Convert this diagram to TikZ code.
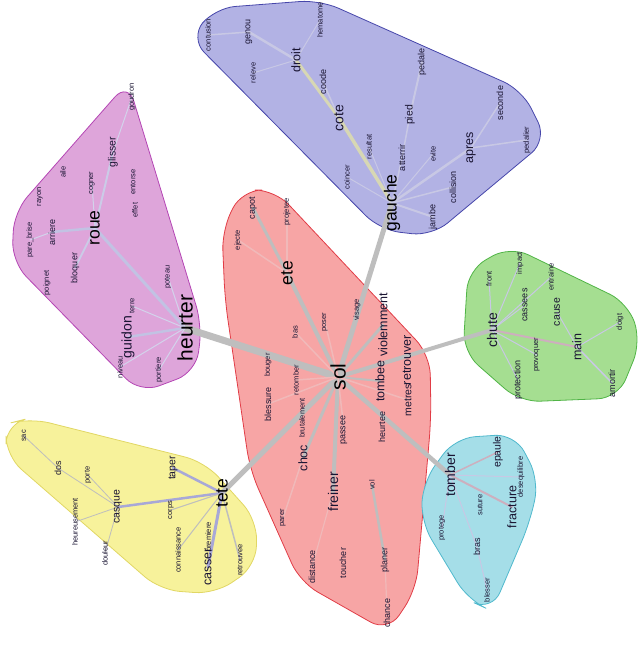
\documentclass[tikz,border=0pt]{standalone}
\usepackage{fontspec}
\setmainfont{Liberation Sans}
\pgfdeclarelayer{hulls}
\pgfdeclarelayer{edges}
\pgfsetlayers{hulls,edges,main}
\definecolor{bluefill}{RGB}{178,178,228}
\definecolor{blueline}{RGB}{70,70,170}
\definecolor{pinkfill}{RGB}{222,165,218}
\definecolor{pinkline}{RGB}{180,70,180}
\definecolor{redfill}{RGB}{247,165,165}
\definecolor{redline}{RGB}{225,60,70}
\definecolor{greenfill}{RGB}{165,222,145}
\definecolor{greenline}{RGB}{80,180,70}
\definecolor{cyanfill}{RGB}{165,222,232}
\definecolor{cyanline}{RGB}{80,185,205}
\definecolor{yellowfill}{RGB}{247,242,155}
\definecolor{yellowline}{RGB}{225,215,100}
\definecolor{txt}{RGB}{25,20,50}
\definecolor{egray}{RGB}{190,190,190}
\definecolor{eyel}{RGB}{215,215,180}
\definecolor{elav}{RGB}{200,200,228}
\definecolor{epk}{RGB}{240,185,185}
\definecolor{eblu}{RGB}{168,168,215}
\definecolor{erose}{RGB}{205,175,190}
\tikzset{
  w/.style={rotate=90, inner sep=0pt, text=txt},
  s0/.style={w, font=\fontsize{7.5}{8}\selectfont},
  s1/.style={w, font=\fontsize{9}{9}\selectfont},
  s2/.style={w, font=\fontsize{10.5}{10}\selectfont},
  s3/.style={w, font=\fontsize{12.5}{12}\selectfont},
  s4/.style={w, font=\fontsize{14}{14}\selectfont},
  s5/.style={w, font=\fontsize{17.5}{17}\selectfont, text=black},
  s6/.style={w, font=\fontsize{21}{20}\selectfont, text=black},
  hull/.style={line width=0.8pt, rounded corners=20pt},
  ed/.style={line cap=round, draw=egray},
}
\begin{document}
\begin{tikzpicture}[x=1pt,y=-1pt]
\useasboundingbox (0,0) rectangle (640,650);
% ---------- blue
\node[s0] (contusion) at (208,35) {contusion};
\node[s1] (genou) at (249,32) {genou};
\node[s0] (hematome) at (320,20) {hematome};
\node[s3] (droit) at (296,60) {droit};
\node[s0] (releve) at (253,73) {releve};
\node[s1] (coode) at (323,82) {coode};
\node[s4] (cote) at (339,118) {cote};
\node[s1] (pedale) at (422,62) {pedale};
\node[s2] (pied) at (410,115) {pied};
\node[s1] (seconde) at (500,103) {seconde};
\node[s0] (pedalier) at (527,140) {pedalier};
\node[s0] (resultat) at (369,147) {resultat};
\node[s1] (atterrir) at (402,158) {atterrir};
\node[s0] (evite) at (433,154) {evite};
\node[s3] (apres) at (471,148) {apres};
\node[s0] (coincer) at (347,177) {coincer};
\node[s1] (collision) at (453,187) {collision};
\node[s5] (gauche) at (392,203) {gauche};
\node[s1] (jambe) at (433,217) {jambe};
% ---------- pink
\node[s0] (goudron) at (132,97) {goudron};
\node[s2] (glisser) at (113,152) {glisser};
\node[s0] (aile) at (63,172) {aile};
\node[s0] (rayon) at (40,197) {rayon};
\node[s0] (cogner) at (92,183) {cogner};
\node[s0] (entorse) at (133,182) {entorse};
\node[s0] (effet) at (135,210) {effet};
\node[s5] (roue) at (95,228) {roue};
\node[s1] (arriere) at (52,232) {arriere};
\node[s0] (parebrise) at (30,240) {pare\_brise};
\node[s0] (poignet) at (47,283) {poignet};
\node[s1] (bloquer) at (75,268) {bloquer};
\node[s0] (poteau) at (168,277) {poteau};
\node[s0] (terre) at (132,306) {terre};
\node[s4] (guidon) at (128,337) {guidon};
\node[s6] (heurter) at (185,328) {heurter};
\node[s0] (niveau) at (120,367) {niveau};
\node[s0] (portiere) at (159,370) {portiere};
% ---------- red
\node[s1] (capot) at (253,208) {capot};
\node[s0] (projetee) at (287,212) {projetee};
\node[s0] (ejecte) at (238,240) {ejecte};
\node[s5] (ete) at (287,273) {ete};
\node[s0] (visage) at (357,310) {visage};
\node[s0] (poser) at (325,322) {poser};
\node[s0] (bas) at (295,332) {bas};
\node[s3] (violemment) at (383,325) {violemment};
\node[s0] (bouger) at (268,365) {bouger};
\node[s0] (retomber) at (296,380) {retomber};
\node[s6] (sol) at (338,377) {sol};
\node[s3] (tombee) at (380,381) {tombee};
\node[s3] (retrouver) at (407,360) {retrouver};
\node[s2] (metres) at (408,400) {metres};
\node[s1] (blessure) at (268,404) {blessure};
\node[s0] (brutalement) at (302,418) {brutalement};
\node[s3] (choc) at (303,458) {choc};
\node[s1] (passee) at (344,430) {passee};
\node[s1] (heurtee) at (382,427) {heurtee};
\node[s4] (freiner) at (333,492) {freiner};
\node[s0] (vol) at (372,485) {vol};
\node[s0] (parer) at (283,518) {parer};
\node[s1] (distance) at (312,567) {distance};
\node[s1] (toucher) at (343,563) {toucher};
\node[s1] (planer) at (385,560) {planer};
\node[s1] (chance) at (387,613) {chance};
% ---------- green
\node[s0] (front) at (489,279) {front};
\node[s0] (impact) at (520,263) {impact};
\node[s0] (entraine) at (551,277) {entraine};
\node[s1] (cassees) at (525,305) {cassees};
\node[s2] (cause) at (557,312) {cause};
\node[s0] (doigt) at (620,322) {doigt};
\node[s4] (chute) at (492,330) {chute};
\node[s0] (provoquer) at (537,355) {provoquer};
\node[s3] (main) at (577,347) {main};
\node[s1] (protection) at (518,380) {protection};
\node[s1] (amortir) at (612,383) {amortir};
% ---------- cyan
\node[s4] (tomber) at (450,475) {tomber};
\node[s2] (epaule) at (498,452) {epaule};
\node[s0] (desequilibre) at (521,477) {desequilibre};
\node[s3] (fracture) at (512,507) {fracture};
\node[s0] (suture) at (480,505) {suture};
\node[s0] (protege) at (442,528) {protege};
\node[s1] (bras) at (477,547) {bras};
\node[s0] (blesser) at (487,590) {blesser};
% ---------- yellow
\node[s0] (sac) at (24,436) {sac};
\node[s1] (dos) at (58,468) {dos};
\node[s0] (porte) at (88,475) {porte};
\node[s2] (taper) at (173,468) {taper};
\node[s2] (casque) at (118,507) {casque};
\node[s0] (heureusement) at (75,522) {heureusement};
\node[s5] (tete) at (222,493) {tete};
\node[s0] (corps) at (171,510) {corps};
\node[s0] (connaissance) at (178,550) {connaissance};
\node[s0] (premiere) at (209,537) {premiere};
\node[s3] (casser) at (208,567) {casser};
\node[s0] (douleur) at (105,553) {douleur};
\node[s0] (retrouvee) at (240,560) {retrouvee};

\begin{pgfonlayer}{hulls}
\draw[hull, fill=bluefill, draw=blueline] (190,38) -- (215,8) -- (320,0) -- (522,90) -- (547,140) -- (432,236) -- (380,230) -- cycle;
\draw[hull, fill=pinkfill, draw=pinkline] (128,82) -- (202,325) -- (196,372) -- (140,393) -- (12,262) -- (14,212) -- cycle;
\draw[hull, fill=redfill, draw=redline] (222,230) -- (242,190) -- (275,190) -- (430,355) -- (431,420) -- (416,590) -- (388,632) -- (300,582) -- (250,470) -- (225,300) -- cycle;
\draw[hull, fill=greenfill, draw=greenline] (468,270) -- (510,246) -- (628,303) -- (641,342) -- (618,398) -- (520,402) -- (463,352) -- cycle;
\draw[hull, fill=cyanfill, draw=cyanline] (423,482) -- (455,438) -- (515,434) -- (539,480) -- (530,522) -- (492,611) -- (468,600) -- (421,522) -- cycle;
\draw[hull, fill=yellowfill, draw=yellowline] (6,424) -- (30,418) -- (205,462) -- (257,520) -- (256,566) -- (215,594) -- (160,590) -- (6,456) -- cycle;
\end{pgfonlayer}

\begin{pgfonlayer}{edges}
% main edges from sol
\draw[ed, line width=7pt] (sol.center) -- (heurter.center);
\draw[ed, line width=5pt] (sol.center) -- (gauche.center);
\draw[ed, line width=4pt] (sol.center) -- (chute.center);
\draw[ed, line width=5pt] (sol.center) -- (tete.center);
\draw[ed, line width=4.5pt] (sol.center) -- (tomber.center);
\draw[ed, line width=4pt] (sol.center) -- (ete.center);
\draw[ed, line width=4pt] (sol.center) -- (freiner.center);
\draw[ed, line width=3pt] (sol.center) -- (choc.center);
\draw[ed, line width=3pt] (sol.center) -- (violemment.center);
\draw[ed, line width=2pt] (sol.center) -- (tombee.center);
\draw[ed, draw=epk, line width=1.5pt] (sol.center) -- (passee.center);
\draw[ed, draw=epk, line width=1.5pt] (sol.center) -- (metres.center);
\draw[ed, draw=epk, line width=1.5pt] (sol.center) -- (retomber.center);
\draw[ed, draw=epk, line width=1.5pt] (sol.center) -- (blessure.center);
\draw[ed, draw=epk, line width=1.5pt] (sol.center) -- (bas.center);
\draw[ed, draw=epk, line width=1.5pt] (sol.center) -- (poser.center);
\draw[ed, line width=3pt] (ete.center) -- (capot.center);
\draw[ed, draw=epk, line width=1.5pt] (ete.center) -- (ejecte.center);
\draw[ed, draw=epk, line width=1.5pt] (ete.center) -- (projetee.center);
\draw[ed, line width=2.5pt] (vol.center) -- (planer.center);
\draw[ed, draw=epk, line width=1.5pt] (choc.center) -- (parer.center);
\draw[ed, draw=epk, line width=1.2pt] (freiner.center) -- (distance.center);
\draw[ed, draw=epk, line width=1.2pt] (planer.center) -- (chance.center);
% blue
\draw[ed, draw=eyel, line width=3.5pt] (gauche.center) -- (cote.center);
\draw[ed, draw=eyel, line width=3pt] (cote.center) -- (droit.center);
\draw[ed, draw=elav, line width=2.5pt] (droit.center) -- (genou.center);
\draw[ed, draw=elav, line width=1.5pt] (genou.center) -- (contusion.center);
\draw[ed, draw=elav, line width=1pt] (droit.center) -- (releve.center);
\draw[ed, draw=elav, line width=1pt] (droit.center) -- (hematome.center);
\draw[ed, draw=elav, line width=1.5pt] (cote.center) -- (coode.center);
\draw[ed, draw=elav, line width=1.5pt] (gauche.center) -- (atterrir.center);
\draw[ed, draw=elav, line width=1.5pt] (atterrir.center) -- (pied.center);
\draw[ed, draw=elav, line width=2pt] (pied.center) -- (pedale.center);
\draw[ed, draw=elav, line width=2.5pt] (gauche.center) -- (apres.center);
\draw[ed, draw=elav, line width=1.5pt] (apres.center) -- (seconde.center);
\draw[ed, draw=elav, line width=1.5pt] (apres.center) -- (pedalier.center);
\draw[ed, draw=elav, line width=2pt] (gauche.center) -- (jambe.center);
\draw[ed, draw=elav, line width=1.5pt] (gauche.center) -- (collision.center);
\draw[ed, draw=elav, line width=1pt] (gauche.center) -- (coincer.center);
\draw[ed, draw=elav, line width=1pt] (gauche.center) -- (resultat.center);
\draw[ed, draw=elav, line width=1pt] (gauche.center) -- (evite.center);
% pink
\draw[ed, draw=eblu!70!white, line width=3pt] (heurter.center) -- (roue.center);
\draw[ed, draw=eblu!70!white, line width=2.5pt] (roue.center) -- (arriere.center);
\draw[ed, draw=eblu!60!white, line width=2pt] (roue.center) -- (bloquer.center);
\draw[ed, draw=eblu!60!white, line width=2pt] (roue.center) -- (glisser.center);
\draw[ed, draw=eblu!50!white, line width=1pt] (glisser.center) -- (goudron.center);
\draw[ed, draw=eblu!50!white, line width=1pt] (roue.center) -- (cogner.center);
\draw[ed, draw=eblu!50!white, line width=1pt] (arriere.center) -- (parebrise.center);
\draw[ed, draw=eblu!70!white, line width=2.5pt] (heurter.center) -- (guidon.center);
\draw[ed, draw=eblu!50!white, line width=1pt] (heurter.center) -- (terre.center);
\draw[ed, draw=eblu!50!white, line width=1pt] (heurter.center) -- (poteau.center);
\draw[ed, draw=eblu!50!white, line width=1pt] (heurter.center) -- (portiere.center);
\draw[ed, draw=eblu!50!white, line width=1pt] (heurter.center) -- (niveau.center);
% green
\draw[ed, draw=erose, line width=2pt] (chute.center) -- (main.center);
\draw[ed, draw=elav, line width=1.5pt] (main.center) -- (amortir.center);
\draw[ed, draw=elav, line width=1pt] (main.center) -- (cause.center);
\draw[ed, draw=elav, line width=1pt] (main.center) -- (doigt.center);
\draw[ed, draw=elav, line width=1pt] (chute.center) -- (front.center);
\draw[ed, draw=elav, line width=1pt] (chute.center) -- (cassees.center);
\draw[ed, draw=elav, line width=1pt] (chute.center) -- (impact.center);
\draw[ed, draw=elav, line width=1pt] (chute.center) -- (entraine.center);
\draw[ed, draw=elav, line width=1pt] (chute.center) -- (provoquer.center);
\draw[ed, draw=elav, line width=1pt] (chute.center) -- (protection.center);
% cyan
\draw[ed, draw=erose, line width=2pt] (tomber.center) -- (fracture.center);
\draw[ed, draw=erose, line width=1.5pt] (tomber.center) -- (epaule.center);
\draw[ed, draw=elav, line width=1pt] (tomber.center) -- (desequilibre.center);
\draw[ed, draw=elav, line width=1pt] (tomber.center) -- (bras.center);
\draw[ed, draw=elav, line width=1pt] (bras.center) -- (blesser.center);
\draw[ed, draw=elav, line width=1pt] (tomber.center) -- (protege.center);
% yellow
\draw[ed, draw=eblu, line width=2.5pt] (tete.center) -- (casque.center);
\draw[ed, draw=eblu, line width=2.5pt] (tete.center) -- (taper.center);
\draw[ed, draw=eblu, line width=3pt] (tete.center) -- (casser.center);
\draw[ed, line width=1.5pt] (tete.center) -- (retrouvee.center);
\draw[ed, line width=1pt] (tete.center) -- (corps.center);
\draw[ed, line width=1pt] (tete.center) -- (connaissance.center);
\draw[ed, line width=0.8pt] (casque.center) -- (dos.center);
\draw[ed, line width=0.8pt] (dos.center) -- (sac.center);
\draw[ed, line width=0.8pt] (casque.center) -- (porte.center);
\draw[ed, line width=0.8pt] (casque.center) -- (heureusement.center);
\draw[ed, line width=0.8pt] (casque.center) -- (douleur.center);
\end{pgfonlayer}
\end{tikzpicture}
\end{document}
